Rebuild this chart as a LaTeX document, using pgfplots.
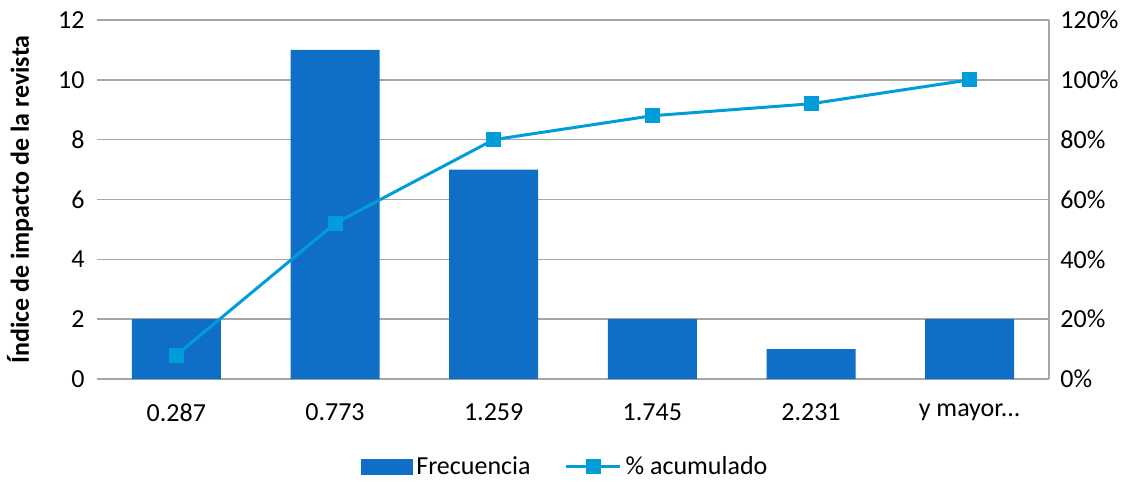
\documentclass[border=0pt]{standalone}
\usepackage{pgfplots}
\pgfplotsset{compat=1.18}
\usepackage{fontspec}
\setmainfont{Carlito}
\definecolor{barblue}{HTML}{0F6FC6}
\definecolor{lineblue}{HTML}{009DD9}
\definecolor{gridgray}{HTML}{A6A6A6}
\pgfplotsset{
  linelegend/.style={legend image code/.code={\draw[mark repeat=2,mark phase=2,##1] plot coordinates {(0pt,0pt) (13.5pt,0pt) (27pt,0pt)};}},
  barlegend/.style={legend image code/.code={\fill[barblue] (0pt,-3.75pt) rectangle (25.5pt,3.75pt);}}
}
\begin{document}
\begin{tikzpicture}[font=\fontsize{13}{15.6}\selectfont]
\begin{axis}[
 scale only axis, width=476pt, height=179.5pt,
 xmin=-0.5, xmax=5.5, ymin=0, ymax=12,
 ytick={0,2,4,6,8,10,12},
 xtick={0,1,2,3,4,5}, xticklabels={0.287,0.773,1.259,1.745,2.231,{y mayor.{}.{}.}},
 axis x line*=bottom, axis y line*=left,
 x axis line style={gridgray, line width=0.75pt, -},
 y axis line style={draw=none},
 major tick length=0pt,
 ymajorgrids, grid style={gridgray, line width=0.75pt},
 /pgf/number format/assume math mode=true,
 yticklabel style={inner sep=0pt, xshift=-6pt},
 xticklabel style={inner sep=0pt, yshift=-12pt},
 ylabel={Índice de impacto de la revista},
 ylabel style={font=\fontsize{13}{15.6}\selectfont\bfseries, at={(axis description cs:-0.081,0.5)}, anchor=center},
]
\addplot[ybar, bar width=44.5pt, fill=barblue, draw=none] coordinates {(0,2) (1,11) (2,7) (3,2) (4,1) (5,2)};
\end{axis}
\begin{axis}[
 scale only axis, width=476pt, height=179.5pt,
 xmin=-0.5, xmax=5.5, ymin=0, ymax=120,
 axis x line=none, axis y line*=right,
 y axis line style={gridgray, line width=0.75pt, -},
 ytick={0,20,40,60,80,100,120},
 /pgf/number format/assume math mode=true,
 yticklabel={\pgfmathprintnumber[assume math mode=true]{\tick}\%},
 yticklabel style={inner sep=0pt, xshift=5.5pt},
 major tick length=0pt,
 clip=false,
 legend style={at={(0.4926,-0.245)}, anchor=center, draw=none, legend columns=2,
   font=\fontsize{13}{15.6}\selectfont,
   /tikz/every even column/.append style={column sep=15pt}},
]
\coordinate (bl) at (axis description cs:0,0);
\coordinate (tr) at (axis description cs:1,1);
\addlegendimage{barlegend}
\addlegendentry{Frecuencia}
\addplot[lineblue, line width=1.5pt, mark=square*, mark size=3pt, mark options={solid, fill=lineblue}, linelegend]
  coordinates {(0,8) (1,52) (2,80) (3,88) (4,92) (5,100)};
\addlegendentry{\% acumulado}
\end{axis}
\pgfresetboundingbox
\path[use as bounding box] ([xshift=-48.5pt,yshift=-51pt]bl) rectangle ([xshift=46pt,yshift=10pt]tr);
\end{tikzpicture}
\end{document}
